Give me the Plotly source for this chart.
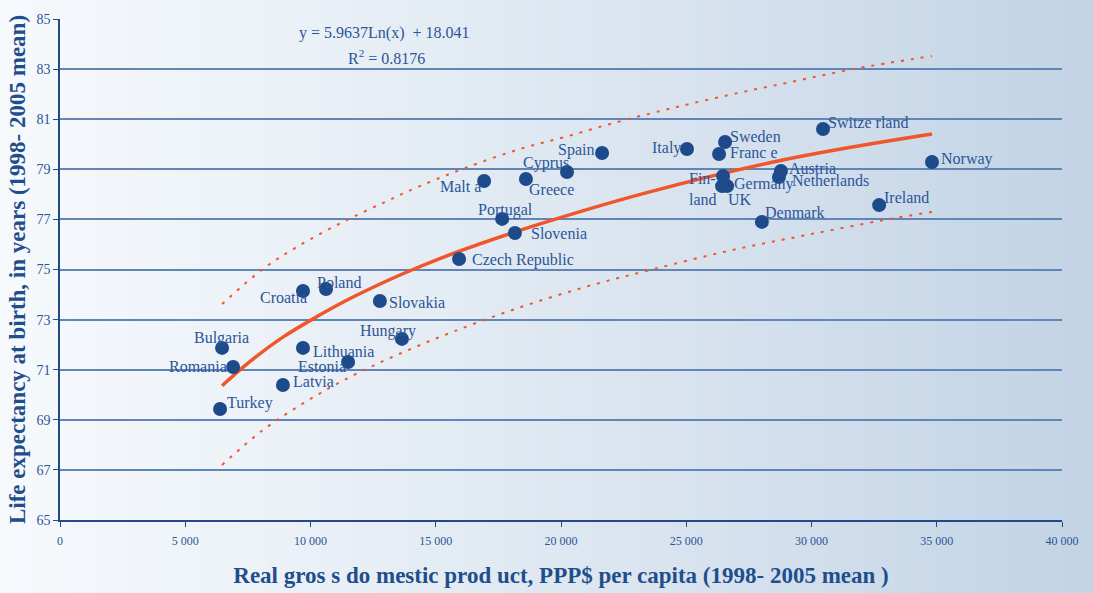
import plotly.graph_objects as go

# ---------------- data ----------------
countries = ["Turkey", "Romania", "Bulgaria", "Latvia", "Lithuania", "Estonia", "Croatia",
             "Poland", "Slovakia", "Hungary", "Czech Republic", "Slovenia", "Portugal",
             "Malta", "Greece", "Cyprus", "Spain", "Italy", "Sweden", "France", "Finland",
             "Germany", "UK", "Austria", "Netherlands", "Denmark", "Switzerland",
             "Ireland", "Norway"]
gdp = [6390, 6910, 6470, 8900, 9700, 11500, 9700,
       10620, 12770, 13650, 15930, 18160, 17650,
       16930, 18600, 20240, 21640, 25030, 26550, 26310, 26430,
       26470, 26630, 28780, 28700, 28020, 30460,
       32700, 34810]
life = [69.43, 71.11, 71.87, 70.39, 71.87, 71.31, 74.14,
        74.22, 73.74, 72.23, 75.42, 76.46, 77.02,
        78.53, 78.61, 78.89, 79.65, 79.81, 80.09, 79.61, 78.33,
        78.73, 78.33, 78.93, 78.69, 76.90, 80.61,
        77.57, 79.29]
label_text = {"Malta": "Malt a", "France": "Franc e", "Switzerland": "Switze rland",
              "Finland": "Fin-<br>land"}

trend_x = [6470, 7590, 8900, 10260, 11580, 13170, 14090, 15970, 18880, 23430, 29140, 34810]
trend_y = [70.36, 71.33, 72.30, 73.12, 73.84, 74.60, 75.00, 75.74, 76.73, 78.07, 79.43, 80.41]

upper_x = [6470, 8100, 9460, 11300, 13050, 14370, 16170, 18360, 20160, 21960, 24630, 27270, 29020, 31660, 34810]
upper_y = [73.62, 75.02, 75.90, 76.90, 77.73, 78.33, 79.05, 79.81, 80.29, 80.81, 81.49, 82.09, 82.45, 83.00, 83.52]

lower_x = [6470, 8100, 9860, 11660, 13450, 15650, 18280, 20960, 23550, 26670, 29820, 32930, 34810]
lower_y = [67.20, 68.59, 69.75, 70.75, 71.59, 72.50, 73.46, 74.30, 74.98, 75.74, 76.38, 76.98, 77.30]

x_ticks = [0, 5000, 10000, 15000, 20000, 25000, 30000, 35000, 40000]
x_tick_labels = ["0", "5 000", "10 000", "15 000", "20 000", "25 000", "30 000", "35 000", "40 000"]
y_ticks = [65, 67, 69, 71, 73, 75, 77, 79, 81, 83, 85]

equation = "y = 5.9637Ln(x)  + 18.041"
r_squared = "R<sup>2</sup> = 0.8176"
x_title = "Real gros s do mestic prod uct, PPP$ per capita (1998- 2005 mean )"
y_title = "Life expectancy at birth, in years (1998- 2005 mean)"

# ---------------- style ----------------
SERIF = "Liberation Serif"
TXT = "#2c5597"
DOT = "#1c4a8a"
ORANGE = "#f0562a"
GRID = "#6285b8"
AXIS = "#234a85"
TITLE = "#1f4e8c"

# label placement: (xanchor, xshift, yshift)
label_pos = {
    "Turkey": ("left", 6, 6), "Romania": ("right", -5, 0), "Bulgaria": ("center", -1, 10),
    "Latvia": ("left", 9, 3), "Lithuania": ("left", 9, -4), "Estonia": ("right", -1, -5),
    "Croatia": ("right", 5, -6), "Poland": ("center", 13, 7), "Slovakia": ("left", 8, -1),
    "Hungary": ("center", -14, 8), "Czech Republic": ("left", 12, -1), "Slovenia": ("left", 15, -1),
    "Portugal": ("center", 3, 9), "Malta": ("right", -2, -5), "Greece": ("left", 2, -10),
    "Cyprus": ("right", 3, 9), "Spain": ("right", -7, 3), "Italy": ("right", -5, 1),
    "Sweden": ("left", 4, 6), "France": ("left", 10, 2), "Finland": ("left", -34, -3),
    "Germany": ("left", 10, -8), "UK": ("left", 0, -13), "Austria": ("left", 7, 3),
    "Netherlands": ("left", 12, -3), "Denmark": ("left", 2, 9), "Switzerland": ("left", 4, 6),
    "Ireland": ("left", 4, 8), "Norway": ("left", 8, 3),
}

fig = go.Figure()

fig.add_trace(go.Scatter(x=upper_x, y=upper_y, mode="lines",
                         line=dict(color=ORANGE, width=2, dash="3px,7px", shape="spline"),
                         hoverinfo="skip", showlegend=False))
fig.add_trace(go.Scatter(x=lower_x, y=lower_y, mode="lines",
                         line=dict(color=ORANGE, width=2, dash="3px,7px", shape="spline"),
                         hoverinfo="skip", showlegend=False))
fig.add_trace(go.Scatter(x=trend_x, y=trend_y, mode="lines",
                         line=dict(color=ORANGE, width=3.5, shape="spline"),
                         hoverinfo="skip", showlegend=False))
fig.add_trace(go.Scatter(x=gdp, y=life, mode="markers", text=countries,
                         marker=dict(color=DOT, size=14),
                         showlegend=False))

annotations = []
for c, gx, ly in zip(countries, gdp, life):
    xa, xs, ys = label_pos[c]
    annotations.append(dict(x=gx, y=ly, xref="x", yref="y", text=label_text.get(c, c),
                            showarrow=False, xanchor=xa, yanchor="middle", xshift=xs, yshift=ys,
                            align="left", font=dict(family=SERIF, size=16, color=TXT),
                            borderpad=0))

L, R, T, B, W, H = 60, 31, 19, 73, 1093, 593
pw, ph = W - L - R, H - T - B


def px_to_paper(px, py):
    return (px - L) / pw, 1 - (py - T) / ph


ex, ey = px_to_paper(384, 33)
annotations.append(dict(x=ex, y=ey, xref="paper", yref="paper", text=equation, showarrow=False,
                        xanchor="center", yanchor="middle",
                        font=dict(family=SERIF, size=16, color=TXT)))
rx, ry = px_to_paper(386, 57)
annotations.append(dict(x=rx, y=ry, xref="paper", yref="paper", text=r_squared, showarrow=False,
                        xanchor="center", yanchor="middle",
                        font=dict(family=SERIF, size=16, color=TXT)))

# background gradient (vertical strips)
shapes = []
n = 80
x_left = -L / pw - 0.01
x_right = (W - L) / pw + 0.01
c0 = (246, 249, 252)
c1 = (194, 211, 229)
for i in range(n):
    t = i / (n - 1)
    t2 = t ** 1.15
    col = tuple(int(round(c0[k] + (c1[k] - c0[k]) * t2)) for k in range(3))
    xa0 = x_left + (x_right - x_left) * i / n
    xa1 = x_left + (x_right - x_left) * (i + 1) / n + 0.002
    shapes.append(dict(type="rect", xref="paper", yref="paper", x0=xa0, x1=xa1,
                       y0=-B / ph - 0.02, y1=1 + T / ph + 0.02,
                       fillcolor="rgb(%d,%d,%d)" % col, line=dict(width=0), layer="below"))

fig.update_layout(
    width=W, height=H,
    margin=dict(l=L, r=R, t=T, b=B, autoexpand=False),
    paper_bgcolor="rgb(222,231,240)",
    plot_bgcolor="rgba(0,0,0,0)",
    shapes=shapes,
    annotations=annotations,
    xaxis=dict(range=[0, 40000], tickvals=x_ticks, ticktext=x_tick_labels,
               showgrid=False, zeroline=False, showline=True, linecolor=AXIS, linewidth=1.5,
               ticks="outside", ticklen=5, tickcolor=AXIS, automargin=False,
               ticklabelstandoff=4,
               tickfont=dict(family=SERIF, size=12, color=TXT),
               title=dict(text="<b>" + x_title + "</b>",
                          font=dict(family=SERIF, size=23, color=TITLE), standoff=20)),
    yaxis=dict(range=[65, 85], tickvals=y_ticks,
               showgrid=True, gridcolor=GRID, gridwidth=1.5, zeroline=False,
               showline=True, linecolor=AXIS, linewidth=1.5, automargin=False,
               ticks="outside", ticklen=5, tickcolor=AXIS,
               tickfont=dict(family=SERIF, size=14, color=TXT),
               title=dict(text="<b>" + y_title + "</b>",
                          font=dict(family=SERIF, size=23, color=TITLE), standoff=4)),
)

fig.write_html("out.html", config={"displayModeBar": False},
               post_script="document.body.style.margin='0px';document.body.style.overflow='hidden';")
